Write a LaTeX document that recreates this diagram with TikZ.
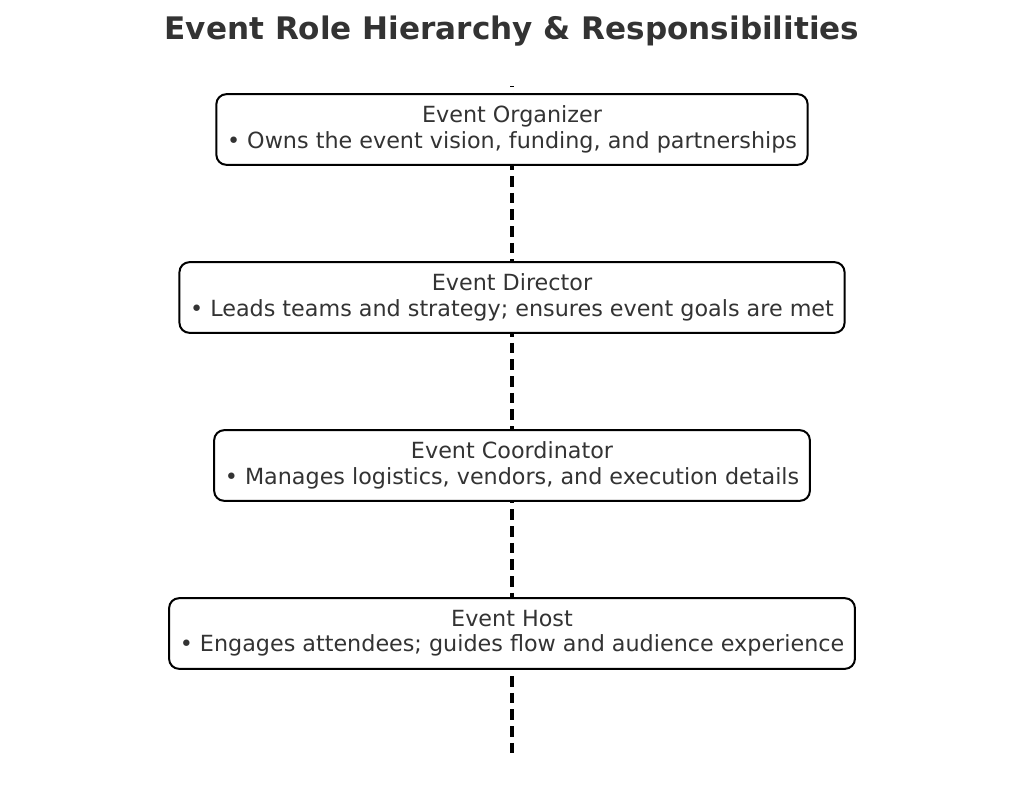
\documentclass[tikz,border=0pt]{standalone}
\usepackage{fontspec}
\setmainfont{DejaVu Sans}
\usetikzlibrary{positioning}

\begin{document}
\begin{tikzpicture}[x=0.75pt, y=-0.75pt, every node/.style={scale=1.0}]
% Roles of an event team, top to bottom

% Colors
\definecolor{dgrey}{HTML}{333333}

% Styles
\tikzset{
  rolebox/.style={draw=black, line width=1.5pt, fill=white, rounded corners=7.5pt,
    align=center, text=dgrey, font=\fontsize{16.7}{19}\selectfont,
    inner xsep=8pt, minimum height=53pt},
  chain/.style={line width=2.4pt, dash pattern=on 8pt off 4.5pt, dash phase=7.4pt}
}

\useasboundingbox (0,0) rectangle (1024,808);

% Title
\node[text=dgrey, font=\fontsize{23.3}{27}\selectfont\bfseries] (title) at (512,31.5) {Event Role Hierarchy \& Responsibilities};

% Line ends
\coordinate (top) at (512,86);
\coordinate (bottom) at (512,757);

% Connection
\draw[chain] (top) -- (bottom);

% Roles
\node[rolebox] (organizer) at (512,129.5) {Event Organizer\\\textbullet{} Owns the event vision, funding, and partnerships};
\node[rolebox] (director) at (512,297.5) {Event Director\\\textbullet{} Leads teams and strategy; ensures event goals are met};
\node[rolebox] (coordinator) at (512,465.5) {Event Coordinator\\\textbullet{} Manages logistics, vendors, and execution details};
\node[rolebox] (host) at (512,633.5) {Event Host\\\textbullet{} Engages attendees; guides flow and audience experience};
\end{tikzpicture}
\end{document}
